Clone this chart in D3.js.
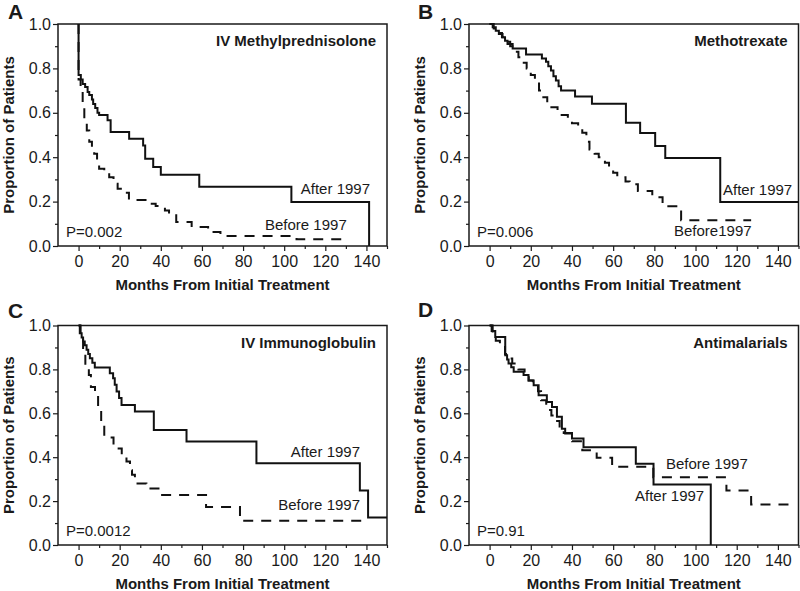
<!DOCTYPE html>
<html>
<head>
<meta charset="utf-8">
<script src="https://cdn.jsdelivr.net/npm/d3@7"></script>
<style>
  body { margin: 0; background: #fff; }
  svg text { font-family: "Liberation Sans", Arial, sans-serif; fill: #1a1a1a; }
</style>
</head>
<body>
<div id="chart"></div>
<script>
// Tick values shared by all four panels
const xMajor = [0, 20, 40, 60, 80, 100, 120, 140];
const xMinor = [10, 30, 50, 70, 90, 110, 130, 150];
const yMajor = [0, 0.2, 0.4, 0.6, 0.8, 1.0];
const yMinor = [0.1, 0.3, 0.5, 0.7, 0.9];

// Kaplan-Meier curves: [month, proportion]
const methylAfter = [[0,1],[0,0.77],[1.1,0.75],[2,0.73],[3.2,0.716],[4.4,0.694],[5.2,0.68],[6.5,0.66],[7.1,0.64],[8.1,0.622],[9.2,0.60],[10,0.59],[14.1,0.566],[15.6,0.513],[24.6,0.483],[31.4,0.453],[32.4,0.393],[36.3,0.356],[40,0.321],[58.7,0.267],[103.5,0.198],[141.3,0]];
const methylBefore = [[0,1],[0,0.75],[1,0.70],[2,0.63],[2.8,0.57],[4,0.52],[5.2,0.47],[6.5,0.44],[7.6,0.416],[9,0.38],[10,0.348],[12.5,0.33],[14.9,0.31],[17,0.28],[19,0.258],[22,0.24],[24.5,0.207],[34,0.19],[37.5,0.18],[42,0.16],[44,0.146],[47.5,0.108],[55,0.086],[63,0.063],[69,0.045],[106,0.03],[129,0.03]];

const mtxAfter = [[0,1],[1.5,0.985],[3,0.97],[4.5,0.955],[6.3,0.94],[7.5,0.925],[8.7,0.91],[11.2,0.89],[17.7,0.863],[25.4,0.845],[27.4,0.83],[28.5,0.81],[29.8,0.79],[31,0.765],[32.2,0.745],[33.5,0.72],[34.7,0.70],[41.5,0.673],[49.7,0.641],[66.2,0.555],[73.1,0.509],[80.4,0.45],[85.3,0.396],[112,0.198],[150,0.198]];
const mtxBefore = [[0,1],[2,0.98],[4,0.96],[6,0.94],[8,0.92],[10,0.90],[12,0.875],[14,0.85],[16,0.825],[18,0.80],[20,0.77],[22,0.74],[24,0.70],[25.5,0.67],[28,0.645],[30,0.625],[33,0.605],[35,0.59],[38,0.57],[40,0.553],[43,0.53],[45,0.51],[47,0.47],[48.5,0.435],[51,0.415],[53,0.40],[56,0.375],[58,0.35],[60,0.33],[62,0.31],[66,0.29],[68,0.278],[72,0.248],[79,0.22],[84,0.179],[93,0.116],[127,0.116]];

const ivigAfter = [[0,1],[0.6,0.965],[1.5,0.945],[2.2,0.927],[3,0.91],[3.9,0.889],[4.7,0.87],[5.5,0.851],[6.7,0.83],[7.9,0.809],[15.2,0.783],[16.8,0.76],[17.6,0.73],[18.5,0.699],[19.7,0.67],[20.9,0.638],[27.4,0.608],[36.6,0.524],[52.5,0.471],[86.5,0.372],[136.8,0.248],[140.8,0.125],[150,0.125]];
const ivigBefore = [[0,1],[1,0.94],[2.2,0.87],[3.3,0.81],[5,0.775],[6,0.72],[8,0.684],[9.5,0.616],[11,0.56],[12.5,0.49],[17,0.44],[21,0.41],[23.3,0.38],[25,0.34],[26,0.32],[27.4,0.28],[33,0.257],[39.5,0.228],[62,0.173],[78.5,0.11],[138,0.11]];

const amAfter = [[0,1],[1,0.975],[2.75,0.948],[7.6,0.865],[8.5,0.845],[9.2,0.827],[10.5,0.81],[11.7,0.789],[16.5,0.774],[18.9,0.75],[21.4,0.728],[23.8,0.682],[27.8,0.652],[30.3,0.629],[32.7,0.584],[35.1,0.53],[36.7,0.508],[40,0.485],[45.6,0.445],[71,0.37],[79.6,0.276],[107.4,0]];
const amBefore = [[0,1],[1.5,0.96],[3,0.93],[5,0.91],[7.5,0.87],[9.5,0.85],[11,0.827],[14,0.80],[17,0.774],[19,0.75],[21,0.73],[23.5,0.70],[25,0.66],[27.5,0.615],[30,0.59],[31.5,0.565],[34,0.53],[36,0.51],[40,0.473],[45,0.432],[52,0.398],[59.5,0.356],[79.5,0.309],[115,0.248],[127,0.184],[146,0.184]];

const panels = [
  { letter: "A", lx: 8, ly: 19, title: "IV Methylprednisolone", p: "P=0.002",
    after: methylAfter, before: methylBefore,
    box: { l: 58, t: 24, r: 387, b: 246 },
    afterLbl: { text: "After 1997", x: 370, y: 194, anchor: "end" },
    beforeLbl: { text: "Before 1997", x: 265, y: 230, anchor: "start" } },
  { letter: "B", lx: 418, ly: 19, title: "Methotrexate", p: "P=0.006",
    after: mtxAfter, before: mtxBefore,
    box: { l: 469, t: 24, r: 798.5, b: 246 },
    afterLbl: { text: "After 1997", x: 723, y: 195, anchor: "start" },
    beforeLbl: { text: "Before1997", x: 674, y: 236, anchor: "start" } },
  { letter: "C", lx: 8, ly: 318, title: "IV Immunoglobulin", p: "P=0.0012",
    after: ivigAfter, before: ivigBefore,
    box: { l: 58, t: 325.5, r: 387, b: 545 },
    afterLbl: { text: "After 1997", x: 360, y: 457, anchor: "end" },
    beforeLbl: { text: "Before 1997", x: 360, y: 510, anchor: "end" } },
  { letter: "D", lx: 418, ly: 317, title: "Antimalarials", p: "P=0.91",
    after: amAfter, before: amBefore,
    box: { l: 469, t: 325.5, r: 798.5, b: 545 },
    afterLbl: { text: "After 1997", x: 635, y: 501, anchor: "start" },
    beforeLbl: { text: "Before 1997", x: 666, y: 469, anchor: "start" } }
];

const svg = d3.select("#chart").append("svg")
  .attr("width", 800)
  .attr("height", 591);

panels.forEach(pn => {
  const { l, t, r, b } = pn.box;
  const x = d3.scaleLinear().domain([-10, 150]).range([l, r]);
  const y = d3.scaleLinear().domain([0, 1]).range([b, t]);
  const g = svg.append("g");

  // Axes: major ticks with labels, minor ticks without
  g.append("g").attr("transform", `translate(0,${b})`)
    .call(d3.axisBottom(x).tickValues(xMajor).tickSize(5).tickPadding(5).tickFormat(d3.format("d")));
  g.append("g").attr("transform", `translate(0,${b})`)
    .call(d3.axisBottom(x).tickValues(xMinor).tickSize(3).tickFormat(""));
  g.append("g").attr("transform", `translate(${l},0)`)
    .call(d3.axisLeft(y).tickValues(yMajor).tickSize(5).tickPadding(2).tickFormat(d3.format(".1f")));
  g.append("g").attr("transform", `translate(${l},0)`)
    .call(d3.axisLeft(y).tickValues(yMinor).tickSize(3).tickFormat(""));

  g.selectAll(".domain").remove();
  g.selectAll(".tick line").attr("stroke", "#1a1a1a").attr("stroke-width", 1.2);
  g.selectAll(".tick text").style("font-size", "16px").attr("fill", "#222");

  // Plot frame
  g.append("rect")
    .attr("x", l).attr("y", t)
    .attr("width", r - l).attr("height", b - t)
    .attr("fill", "none")
    .attr("stroke", "#1a1a1a")
    .attr("stroke-width", 1.5);

  const line = d3.line()
    .x(d => x(d[0]))
    .y(d => y(d[1]))
    .curve(d3.curveStepAfter);

  g.append("path")
    .datum(pn.before)
    .attr("d", line)
    .attr("fill", "none")
    .attr("stroke", "#111")
    .attr("stroke-width", 2)
    .attr("stroke-dasharray", "10,8");

  g.append("path")
    .datum(pn.after)
    .attr("d", line)
    .attr("fill", "none")
    .attr("stroke", "#111")
    .attr("stroke-width", 2);

  // Titles and labels
  g.append("text")
    .attr("x", r - 11).attr("y", t + 22)
    .attr("text-anchor", "end")
    .style("font-size", "15px").style("font-weight", "bold")
    .text(pn.title);

  g.append("text")
    .attr("x", l + 8).attr("y", b - 9)
    .style("font-size", "15px")
    .text(pn.p);

  [pn.afterLbl, pn.beforeLbl].forEach(lb => {
    g.append("text")
      .attr("x", lb.x).attr("y", lb.y)
      .attr("text-anchor", lb.anchor)
      .style("font-size", "15px")
      .text(lb.text);
  });

  g.append("text")
    .attr("x", (l + r) / 2).attr("y", b + 44)
    .attr("text-anchor", "middle")
    .style("font-size", "15px").style("font-weight", "bold")
    .text("Months From Initial Treatment");

  g.append("text")
    .attr("transform", `translate(${l - 44},${(t + b) / 2}) rotate(-90)`)
    .attr("text-anchor", "middle")
    .style("font-size", "15px").style("font-weight", "bold")
    .text("Proportion of Patients");

  svg.append("text")
    .attr("x", pn.lx).attr("y", pn.ly)
    .style("font-size", "21px").style("font-weight", "bold")
    .text(pn.letter);
});
</script>
</body>
</html>
